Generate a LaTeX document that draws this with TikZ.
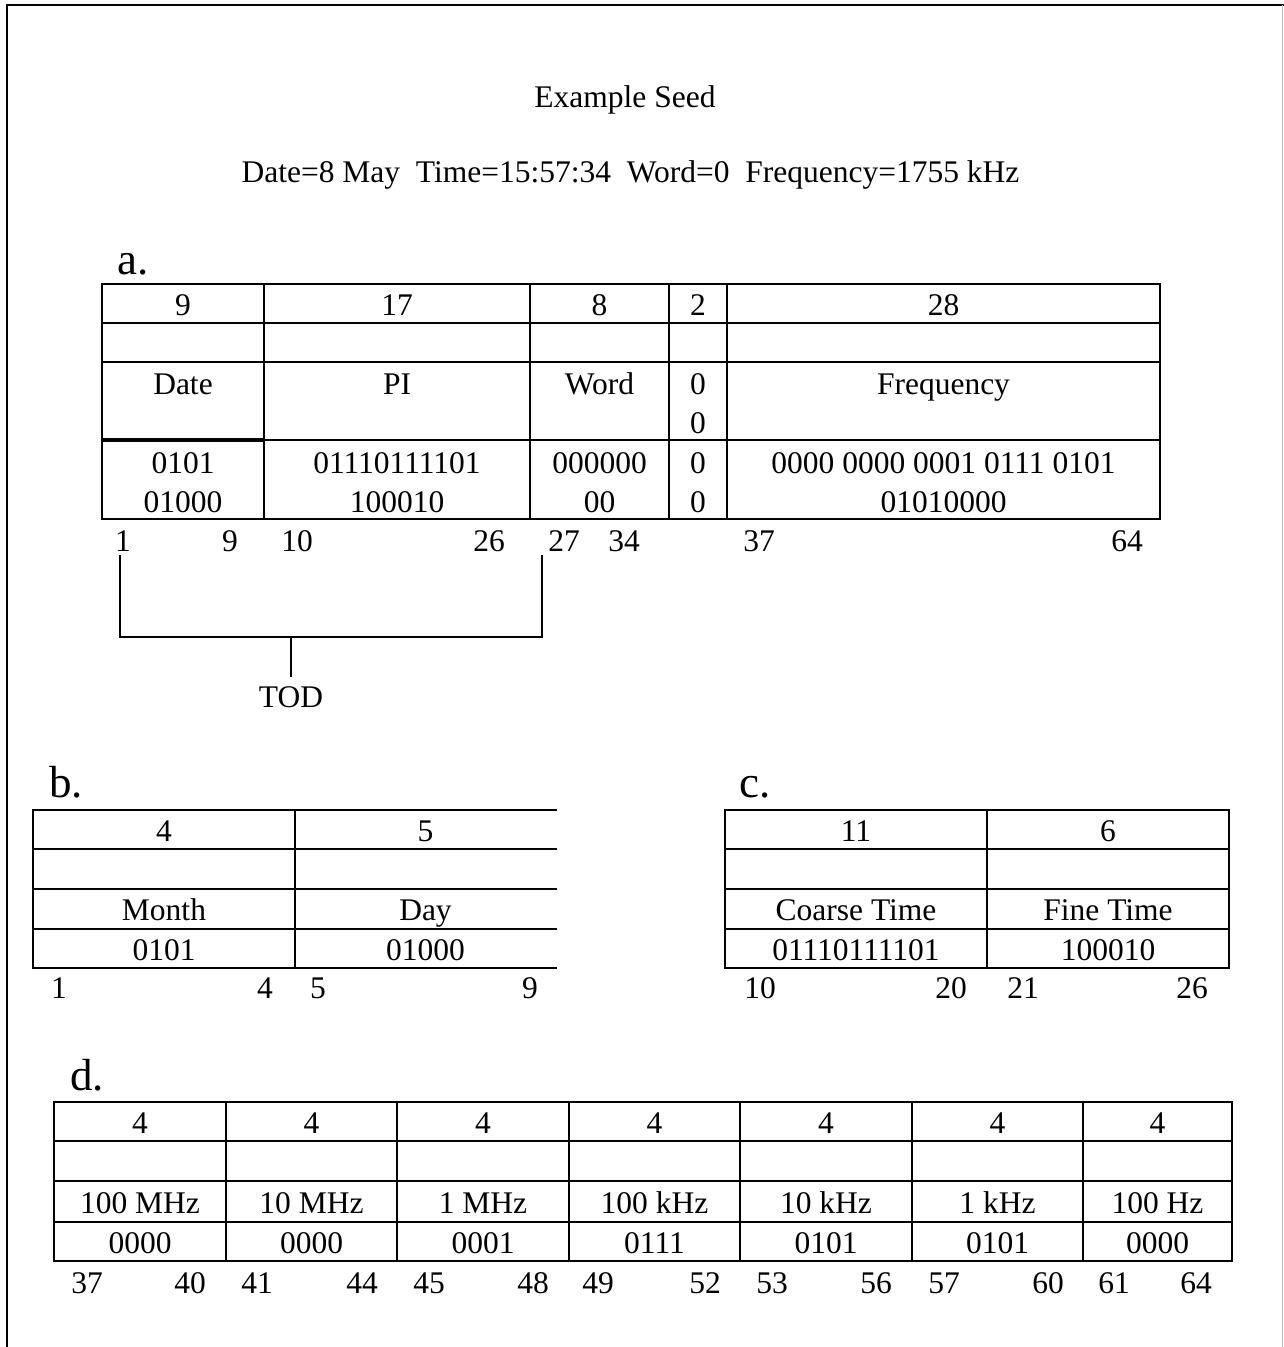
\documentclass[tikz,border=0pt]{standalone}
\usepackage{fontspec}
\setmainfont{Liberation Serif}
\begin{document}
\begin{tikzpicture}[x=1pt,y=-1pt,
  tl/.style={line width=2pt, line cap=rect},
  tx/.style={anchor=base, inner sep=0pt, font=\fontsize{31.5}{38}\selectfont},
  lb/.style={anchor=base west, inner sep=0pt, font=\fontsize{45}{50}\selectfont}]
\useasboundingbox (0,0) rectangle (1284,1347);
% frame
\draw[line width=2.2pt] (7,1347) -- (7,5) -- (1284,5);
\draw[black!25, line width=1.5pt] (1282.5,5) -- (1282.5,1347);
% titles
\node[tx] (title) at (625,107) {Example Seed};
\node[tx] (seed) at (630.5,182) {Date=8 May\ \ Time=15:57:34\ \ Word=0\ \ Frequency=1755 kHz};
% ---------- table a ----------
\node[lb] (la) at (117,274) {a.};
\draw[tl] (102,284) rectangle (1160,519);
\foreach \y in {323,362,440} \draw[tl] (102,\y) -- (1160,\y);
\foreach \x in {264,530,669,727} \draw[tl] (\x,284) -- (\x,519);
\draw[line width=4pt] (102,440) -- (264,440);
\node[tx] (a11) at (183,315) {9};
\node[tx] (a12) at (397,315) {17};
\node[tx] (a13) at (599.5,315) {8};
\node[tx] (a14) at (698,315) {2};
\node[tx] (a15) at (943.5,315) {28};
\node[tx] (a31) at (183,394) {Date};
\node[tx] (a32) at (397,394) {PI};
\node[tx] (a33) at (599.5,394) {Word};
\node[tx] (a34) at (698,394) {0};
\node[tx] (a34b) at (698,433) {0};
\node[tx] (a35) at (943.5,394) {Frequency};
\node[tx] (a41) at (183,473) {0101};
\node[tx] (a41b) at (183,512) {01000};
\node[tx] (a42) at (397,473) {01110111101};
\node[tx] (a42b) at (397,512) {100010};
\node[tx] (a43) at (599.5,473) {000000};
\node[tx] (a43b) at (599.5,512) {00};
\node[tx] (a44) at (698,473) {0};
\node[tx] (a44b) at (698,512) {0};
\node[tx] (a45) at (943.5,473) {0000 0000 0001 0111 0101};
\node[tx] (a45b) at (943.5,512) {01010000};
\foreach \n/\x in {1/123,9/230,10/297,26/489,27/564,34/624,37/759,64/1127}
  \node[tx] (na\n) at (\x,551) {\n};
% TOD bracket
\coordinate (bl) at (120,556);
\coordinate (br) at (542,556);
\coordinate (bm) at (291,637);
\node[tx] (tod) at (291,707) {TOD};
\draw[tl] (bl) -- (120,637) -- (542,637) -- (br);
\draw[tl] (bm) -- (291,676);
% ---------- table b ----------
\node[lb] (lbb) at (49,797) {b.};
\foreach \y in {810,849,889,929,968} \draw[tl] (33,\y) -- (556,\y);
\foreach \x in {33,295} \draw[tl] (\x,810) -- (\x,968);
\node[tx] (b11) at (164,841) {4};
\node[tx] (b12) at (425.5,841) {5};
\node[tx] (b31) at (164,920) {Month};
\node[tx] (b32) at (425.5,920) {Day};
\node[tx] (b41) at (164,960) {0101};
\node[tx] (b42) at (425.5,960) {01000};
\foreach \n/\x in {1/59,4/265,5/318,9/530}
  \node[tx] (nb\n) at (\x,998) {\n};
% ---------- table c ----------
\node[lb] (lc) at (739,797) {c.};
\draw[tl] (725,810) rectangle (1229,968);
\foreach \y in {849,889,929} \draw[tl] (725,\y) -- (1229,\y);
\draw[tl] (987,810) -- (987,968);
\node[tx] (c11) at (856,841) {11};
\node[tx] (c12) at (1108,841) {6};
\node[tx] (c31) at (856,920) {Coarse Time};
\node[tx] (c32) at (1108,920) {Fine Time};
\node[tx] (c41) at (856,960) {01110111101};
\node[tx] (c42) at (1108,960) {100010};
\foreach \n/\x in {10/760,20/951,21/1023,26/1192}
  \node[tx] (nc\n) at (\x,998) {\n};
% ---------- table d ----------
\node[lb] (ld) at (70,1090) {d.};
\draw[tl] (54,1102) rectangle (1232,1261);
\foreach \y in {1141,1181,1222} \draw[tl] (54,\y) -- (1232,\y);
\foreach \x in {226,397,569,740,912,1083} \draw[tl] (\x,1102) -- (\x,1261);
\foreach \i/\x/\u/\v in {1/140/100 MHz/0000, 2/311.5/10 MHz/0000, 3/483/1 MHz/0001,
  4/654.5/100 kHz/0111, 5/826/10 kHz/0101, 6/997.5/1 kHz/0101, 7/1157.5/100 Hz/0000}{
  \node[tx] (d1\i) at (\x,1133) {4};
  \node[tx] (d3\i) at (\x,1213) {\u};
  \node[tx] (d4\i) at (\x,1253) {\v};
}
\foreach \n/\x in {37/87,40/190,41/257,44/362,45/429,48/533,49/598,52/705,53/772,56/876,57/944,60/1048,61/1114,64/1196}
  \node[tx] (nd\n) at (\x,1293) {\n};
\end{tikzpicture}
\end{document}
